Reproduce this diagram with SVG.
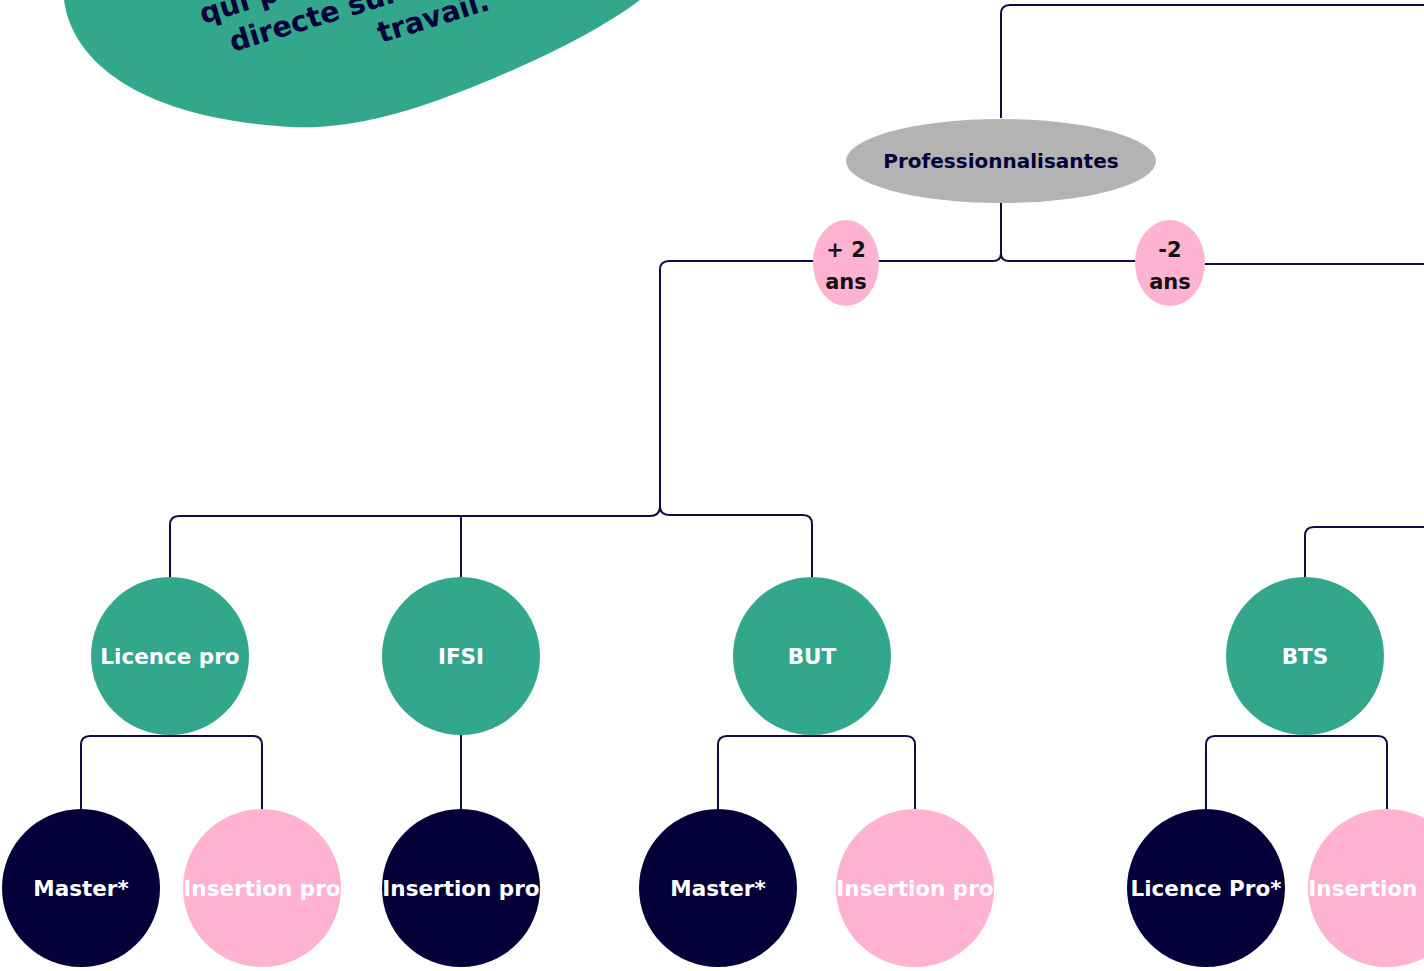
<svg xmlns="http://www.w3.org/2000/svg" width="1424" height="971" viewBox="0 0 1424 971">
<style>
.ln{fill:none;stroke:#0E0C40;stroke-width:2;stroke-linejoin:round}
.g{fill:#33A78C}
.n{fill:#03003A}
.p{fill:#FFB3D1}
.t{font-family:"DejaVu Sans","Noto Sans","Liberation Sans",sans-serif;font-weight:700;font-size:21.5px;fill:#FFFFFF;text-anchor:middle}
.k{fill:#111111;font-size:21px}
.bt{font-family:"DejaVu Sans","Noto Sans","Liberation Sans",sans-serif;font-weight:700;font-size:28.5px;fill:#03003A}
</style>
<rect width="1424" height="971" fill="#FFFFFF"/>
<g id="blob">
<path class="g" d="M 64 0 C 72 62 140 118 290 127 C 350 130 410 112 470 88 C 540 60 600 30 640 0 Z"/>
<text class="bt" transform="translate(203,24) rotate(-17)">qui permettent une</text>
<text class="bt" transform="translate(233,52) rotate(-17)">directe sur le marché du</text>
<text class="bt" transform="translate(381,43) rotate(-17)">travail.</text>
</g>
<g id="connectors">
<path class="ln" d="M 1001 118 L 1001 14 Q 1001 5 1010 5 L 1430 5"/>
<path class="ln" d="M 1001 203 L 1001 253 Q 1001 261 993 261 L 669 261 Q 660 261 660 270 L 660 292"/>
<path class="ln" d="M 660 292 L 660 506 Q 660 516 650 516 L 179 516 Q 170 516 170 525 L 170 578"/>
<path class="ln" d="M 660 506 Q 660 515 670 515 L 803 515 Q 812 515 812 524 L 812 578"/>
<path class="ln" d="M 461 516 L 461 578"/>
<path class="ln" d="M 1001 253 Q 1001 261 1009 261 L 1140 261"/>
<path class="ln" d="M 1200 264 L 1430 264"/>
<path class="ln" d="M 1305 578 L 1305 536 Q 1305 527 1314 527 L 1430 527"/>
<path class="ln" d="M 81 809 L 81 745 Q 81 736 90 736 L 253 736 Q 262 736 262 745 L 262 809"/>
<path class="ln" d="M 461 735 L 461 809"/>
<path class="ln" d="M 718 809 L 718 745 Q 718 736 727 736 L 906 736 Q 915 736 915 745 L 915 809"/>
<path class="ln" d="M 1206 809 L 1206 745 Q 1206 736 1215 736 L 1378 736 Q 1387 736 1387 745 L 1387 809"/>
</g>
<g id="professionnalisantes">
<ellipse cx="1001" cy="161" rx="155" ry="42" fill="#B3B3B3"/>
<text class="t" x="1001" y="168" style="fill:#03003A;font-size:20px">Professionnalisantes</text>
</g>
<g id="plus2ans">
<ellipse class="p" cx="846" cy="263" rx="33" ry="43"/>
<text class="t k" x="846" y="257">+ 2</text>
<text class="t k" x="846" y="289">ans</text>
</g>
<g id="moins2ans">
<ellipse class="p" cx="1170" cy="263" rx="35" ry="43"/>
<text class="t k" x="1170" y="257">-2</text>
<text class="t k" x="1170" y="289">ans</text>
</g>
<g id="licencepro"><circle class="g" cx="170" cy="656" r="79"/><text class="t" x="170" y="664">Licence pro</text></g>
<g id="ifsi"><circle class="g" cx="461" cy="656" r="79"/><text class="t" x="461" y="664">IFSI</text></g>
<g id="but"><circle class="g" cx="812" cy="656" r="79"/><text class="t" x="812" y="664">BUT</text></g>
<g id="bts"><circle class="g" cx="1305" cy="656" r="79"/><text class="t" x="1305" y="664">BTS</text></g>
<g id="master1"><circle class="n" cx="81" cy="888" r="79"/><text class="t" x="81" y="896">Master*</text></g>
<g id="insertion1"><circle class="p" cx="262" cy="888" r="79"/><text class="t" x="262" y="896">Insertion pro</text></g>
<g id="insertion2"><circle class="n" cx="461" cy="888" r="79"/><text class="t" x="461" y="896">Insertion pro</text></g>
<g id="master2"><circle class="n" cx="718" cy="888" r="79"/><text class="t" x="718" y="896">Master*</text></g>
<g id="insertion3"><circle class="p" cx="915" cy="888" r="79"/><text class="t" x="915" y="896">Insertion pro</text></g>
<g id="licencepro2"><circle class="n" cx="1206" cy="888" r="79"/><text class="t" x="1206" y="896">Licence Pro*</text></g>
<g id="insertion4"><circle class="p" cx="1387" cy="888" r="79"/><text class="t" x="1387" y="896">Insertion pro</text></g>
</svg>
